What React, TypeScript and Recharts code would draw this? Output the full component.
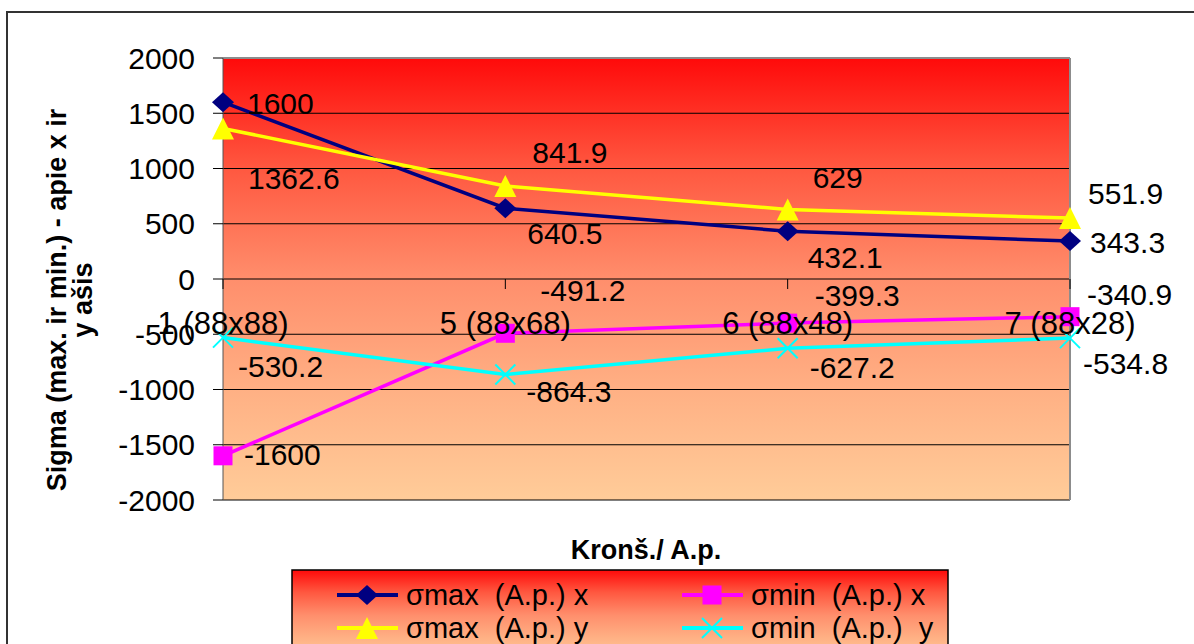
import React from "react";
import {
  LineChart,
  Line,
  XAxis,
  YAxis,
  CartesianGrid,
  ReferenceLine,
  LabelList,
} from "recharts";

const categories = ["1 (88x88)", "5 (88x68)", "6 (88x48)", "7 (88x28)"];
const sigmaMaxX = [1600, 640.5, 432.1, 343.3];
const sigmaMinX = [-1600, -491.2, -399.3, -340.9];
const sigmaMaxY = [1362.6, 841.9, 629, 551.9];
const sigmaMinY = [-530.2, -864.3, -627.2, -534.8];
const yTicks = [-2000, -1500, -1000, -500, 0, 500, 1000, 1500, 2000];

// where Excel put the data labels, relative to the point
const maxXLabelPos = [[24, 1], [22, 25], [20, 26], [20, 1]];
const minXLabelPos = [[21, -1], [35, -43], [27, -28], [17, -22]];
const maxYLabelPos = [[25, 50], [27, -33], [25, -32], [18, -25]];
const minYLabelPos = [[15, 29], [21, 17], [22, 19], [13, 25]];

const data = categories.map((cat, i) => ({
  cat,
  maxX: sigmaMaxX[i],
  minX: sigmaMinX[i],
  maxY: sigmaMaxY[i],
  minY: sigmaMinY[i],
}));

const FONT = "'Liberation Sans', Arial, sans-serif";
const W = 1194;
const H = 644;
const TOP = 58;
const PLOT_H = 442;
const ZERO_Y = TOP + PLOT_H / 2;

const NAVY = "#000080";
const MAGENTA = "#FF00FF";
const YELLOW = "#FFFF00";
const CYAN = "#00FFFF";

const Marker = ({ kind, cx, cy, color }: any) => {
  if (kind === "diamond")
    return <polygon points={`${cx},${cy - 10} ${cx + 11},${cy} ${cx},${cy + 10} ${cx - 11},${cy}`} fill={color} />;
  if (kind === "square")
    return <rect x={cx - 9.5} y={cy - 9.5} width={19} height={19} fill={color} />;
  if (kind === "triangle")
    return <polygon points={`${cx},${cy - 11} ${cx + 11},${cy + 11} ${cx - 11},${cy + 11}`} fill={color} />;
  return (
    <g stroke={color} strokeWidth={2}>
      <line x1={cx - 10} y1={cy - 10} x2={cx + 10} y2={cy + 10} />
      <line x1={cx - 10} y1={cy + 10} x2={cx + 10} y2={cy - 10} />
    </g>
  );
};

const makeDot = (kind: string, color: string) => (p: any) =>
  p.cx == null ? <g key={`e-${p.index}`} /> : <Marker key={`${kind}-${p.index}`} kind={kind} cx={p.cx} cy={p.cy} color={color} />;

const makeLabel = (values: number[], pos: number[][]) => (p: any) => {
  const i = p.index ?? values.indexOf(p.value);
  const [dx, dy] = pos[i] || [20, 0];
  return (
    <text x={p.x + dx} y={p.y + dy} dominantBaseline="central" fontSize={30} fontFamily={FONT} fill="#000">
      {p.value}
    </text>
  );
};

const CategoryTick = ({ x, payload }: any) => (
  <g>
    <line x1={x} x2={x} y1={ZERO_Y} y2={ZERO_Y + 10} stroke="#000" />
    <text x={x} y={ZERO_Y + 55} textAnchor="middle" fontSize={31} fontFamily={FONT} fill="#000">
      {payload.value}
    </text>
  </g>
);

const legendItems = [
  { name: "σmax  (A.p.) x", kind: "diamond", color: NAVY, col: 0, row: 0 },
  { name: "σmin  (A.p.) x", kind: "square", color: MAGENTA, col: 1, row: 0 },
  { name: "σmax  (A.p.) y", kind: "triangle", color: YELLOW, col: 0, row: 1 },
  { name: "σmin  (A.p.)  y", kind: "cross", color: CYAN, col: 1, row: 1 },
];

const Gradient = ({ id }: { id: string }) => (
  <linearGradient id={id} x1="0" y1="0" x2="0" y2="1">
    <stop offset="0%" stopColor="#FF0A0A" />
    <stop offset="25%" stopColor="#FF5840" />
    <stop offset="50%" stopColor="#FF8E6C" />
    <stop offset="75%" stopColor="#FFB084" />
    <stop offset="100%" stopColor="#FFCC99" />
  </linearGradient>
);

const ChartLegend = () => (
  <svg width={658} height={80} style={{ position: "absolute", left: 291, top: 569 }}>
    <defs>
      <Gradient id="legendBg" />
    </defs>
    <rect x={1} y={1} width={656} height={90} fill="url(#legendBg)" stroke="#000" strokeWidth={1.5} />
    {legendItems.map((it) => {
      const x0 = it.col === 0 ? 46 : 391;
      const cy = it.row === 0 ? 26 : 59;
      return (
        <g key={it.name}>
          <line x1={x0} x2={x0 + 61} y1={cy} y2={cy} stroke={it.color} strokeWidth={4} />
          <Marker kind={it.kind} cx={x0 + 30} cy={cy} color={it.color} />
          <text
            x={x0 + 69}
            y={cy}
            dominantBaseline="central"
            fontSize={29}
            fontFamily={FONT}
            fill="#000"
            style={{ whiteSpace: "pre" }}
          >
            {it.name}
          </text>
        </g>
      );
    })}
  </svg>
);

export default function App() {
  return (
    <div style={{ position: "absolute", left: 0, top: 0, width: W, height: H, background: "#fff", overflow: "hidden" }}>
      <svg width={W} height={H} style={{ position: "absolute", left: 0, top: 0 }}>
        <rect x={7} y={12} width={W + 20} height={H + 20} fill="#fff" stroke="#333" strokeWidth={2} />
        <g fontFamily={FONT} fontWeight="bold" fontSize={27} fill="#000">
          <text transform="translate(57,300) rotate(-90)" textAnchor="middle" dominantBaseline="central">
            Sigma (max. ir min.) - apie x ir
          </text>
          <text transform="translate(83,300) rotate(-90)" textAnchor="middle" dominantBaseline="central">
            y ašis
          </text>
          <text x={646} y={559} textAnchor="middle">
            Kronš./ A.p.
          </text>
        </g>
      </svg>
      <div style={{ position: "absolute", left: 0, top: 0 }}>
        <LineChart width={W} height={H} data={data} margin={{ top: TOP, right: 124, left: 133, bottom: 114 }}>
          <defs>
            <Gradient id="plotBg" />
          </defs>
          <CartesianGrid vertical={false} stroke="#000" strokeWidth={1} fill="url(#plotBg)" fillOpacity={1} />
          <ReferenceLine y={2000} stroke="#8c8c8c" strokeWidth={2} />
          <ReferenceLine x={categories[3]} stroke="#8c8c8c" strokeWidth={2} />
          <XAxis
            dataKey="cat"
            height={30}
            axisLine={false}
            tickLine={false}
            interval={0}
            tick={<CategoryTick />}
          />
          <YAxis
            width={90}
            domain={[-2000, 2000]}
            ticks={yTicks}
            interval={0}
            tickSize={10}
            tickMargin={18}
            axisLine={{ stroke: "#555" }}
            tickLine={{ stroke: "#000" }}
            tick={{ fontSize: 30, fontFamily: FONT, fill: "#000" }}
          />
          <Line dataKey="maxX" stroke={NAVY} strokeWidth={3.5} dot={makeDot("diamond", NAVY)} activeDot={false} isAnimationActive={false}>
            <LabelList dataKey="maxX" content={makeLabel(sigmaMaxX, maxXLabelPos)} />
          </Line>
          <Line dataKey="minX" stroke={MAGENTA} strokeWidth={3.5} dot={makeDot("square", MAGENTA)} activeDot={false} isAnimationActive={false}>
            <LabelList dataKey="minX" content={makeLabel(sigmaMinX, minXLabelPos)} />
          </Line>
          <Line dataKey="maxY" stroke={YELLOW} strokeWidth={3.5} dot={makeDot("triangle", YELLOW)} activeDot={false} isAnimationActive={false}>
            <LabelList dataKey="maxY" content={makeLabel(sigmaMaxY, maxYLabelPos)} />
          </Line>
          <Line dataKey="minY" stroke={CYAN} strokeWidth={3.5} dot={makeDot("cross", CYAN)} activeDot={false} isAnimationActive={false}>
            <LabelList dataKey="minY" content={makeLabel(sigmaMinY, minYLabelPos)} />
          </Line>
        </LineChart>
      </div>
      <ChartLegend />
    </div>
  );
}
